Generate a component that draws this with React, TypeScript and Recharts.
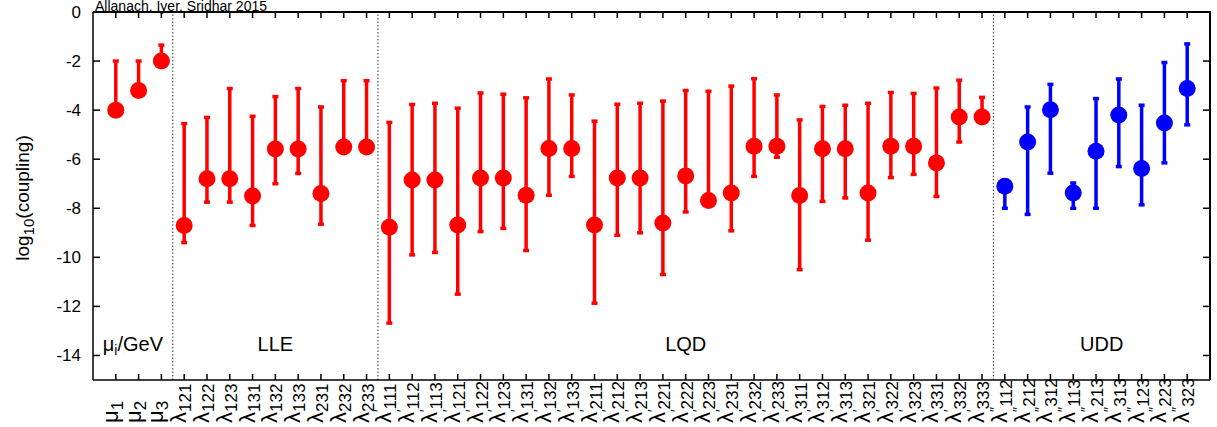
import { ErrorBar, ReferenceLine, Scatter, ScatterChart, XAxis, YAxis } from 'recharts';

// couplings as log10 values: best fit, lower end, upper end of the bar
const muNames = ['μ_1', 'μ_2', 'μ_3'];
const muBest = [-4.0, -3.2, -2.0];
const muLow = [-4.0, -3.2, -2.0];
const muHigh = [-2.0, -2.0, -1.35];

const lleNames = ['λ_121', 'λ_122', 'λ_123', 'λ_131', 'λ_132', 'λ_133', 'λ_231', 'λ_232', 'λ_233'];
const lleBest = [-8.7, -6.8, -6.8, -7.5, -5.58, -5.58, -7.4, -5.5, -5.5];
const lleLow = [-9.4, -7.75, -7.75, -8.7, -7.0, -6.58, -8.65, -5.5, -5.5];
const lleHigh = [-4.55, -4.3, -3.12, -4.25, -3.45, -3.12, -3.87, -2.8, -2.8];

const lqdNames = [
    "λ'_111", "λ'_112", "λ'_113", "λ'_121", "λ'_122", "λ'_123", "λ'_131", "λ'_132", "λ'_133",
    "λ'_211", "λ'_212", "λ'_213", "λ'_221", "λ'_222", "λ'_223", "λ'_231", "λ'_232", "λ'_233",
    "λ'_311", "λ'_312", "λ'_313", "λ'_321", "λ'_322", "λ'_323", "λ'_331", "λ'_332", "λ'_333",
];
const lqdBest = [
    -8.77, -6.85, -6.85, -8.68, -6.77, -6.77, -7.47, -5.56, -5.56,
    -8.68, -6.77, -6.77, -8.6, -6.68, -7.68, -7.38, -5.47, -5.47,
    -7.48, -5.57, -5.57, -7.38, -5.47, -5.47, -6.15, -4.28, -4.28,
];
const lqdLow = [
    -12.68, -9.9, -9.8, -11.5, -8.95, -8.82, -9.72, -7.47, -6.7,
    -11.87, -9.1, -9.0, -10.7, -8.15, -7.85, -8.92, -6.7, -5.92,
    -10.5, -7.72, -7.58, -9.3, -6.75, -6.62, -7.52, -5.3, -4.4,
];
const lqdHigh = [
    -4.5, -3.77, -3.72, -3.92, -3.3, -3.35, -3.5, -2.73, -3.38,
    -4.45, -3.76, -3.72, -3.63, -3.2, -3.23, -3.02, -2.72, -3.38,
    -4.4, -3.85, -3.8, -3.72, -3.28, -3.32, -3.1, -2.78, -3.48,
];

const uddNames = ["λ''_112", "λ''_212", "λ''_312", "λ''_113", "λ''_213", "λ''_313", "λ''_123", "λ''_223", "λ''_323"];
const uddBest = [-7.1, -5.3, -3.98, -7.38, -5.68, -4.2, -6.38, -4.52, -3.12];
const uddLow = [-8.0, -8.25, -6.57, -8.0, -8.0, -6.3, -7.86, -6.15, -4.6];
const uddHigh = [-7.1, -3.87, -2.95, -6.97, -3.53, -2.73, -3.8, -2.06, -1.3];

const sectorLabels = ['μ_i/GeV', 'LLE', 'LQD', 'UDD'];
const sectorLabelX = [1.75, 8, 26, 44.25];
const sectorLabelY = -13.45;

const X_DOMAIN = [0, 49];
const Y_DOMAIN = [-15, 0];
const yTicks = [0, -2, -4, -6, -8, -10, -12, -14];

// layout
const W = 1217;
const H = 427;
const MARGIN = { top: 12, right: 7, bottom: 0, left: 0 };
const Y_AXIS_W = 93;
const X_AXIS_H = 47;
const PLOT_LEFT = MARGIN.left + Y_AXIS_W;
const PLOT_TOP = MARGIN.top;
const PLOT_RIGHT = W - MARGIN.right;
const PLOT_BOTTOM = H - MARGIN.bottom - X_AXIS_H;

const RED = '#ff0000';
const BLUE = '#0000ff';
const FONT = '"Liberation Sans", Arial, Helvetica, sans-serif';

const allNames = [...muNames, ...lleNames, ...lqdNames, ...uddNames];
const xTicks = allNames.map((_, i) => i + 1);
const breaks = [
    muNames.length + 0.5,
    muNames.length + lleNames.length + 0.5,
    muNames.length + lleNames.length + lqdNames.length + 0.5,
];

function buildRows(best: number[], low: number[], high: number[], start: number) {
    return best.map((v, i) => ({ x: start + i, y: v, err: [v - low[i], high[i] - v] }));
}

const redRows = [
    ...buildRows(muBest, muLow, muHigh, 1),
    ...buildRows(lleBest, lleLow, lleHigh, 1 + muNames.length),
    ...buildRows(lqdBest, lqdLow, lqdHigh, 1 + muNames.length + lleNames.length),
];
const blueRows = buildRows(uddBest, uddLow, uddHigh, 1 + muNames.length + lleNames.length + lqdNames.length);
const sectorRows = sectorLabels.map((label, i) => ({ x: sectorLabelX[i], y: sectorLabelY, label }));

function splitName(name: string) {
    const [head, sub] = name.split('_');
    return { base: head[0], primes: head.slice(1).replace(/'/g, '′'), sub };
}

// bottom label + inward tick, mirrored tick on the top edge
function BottomTick({ x, y, payload }: any) {
    const name = allNames[payload.value - 1];
    if (!name) return null;
    const { base, primes, sub } = splitName(name);
    return (
        <g>
            <line x1={x} y1={y} x2={x} y2={y - 6} stroke="#000" strokeWidth={1.5} />
            <line x1={x} y1={PLOT_TOP} x2={x} y2={PLOT_TOP + 6} stroke="#000" strokeWidth={1.5} />
            <text transform={`translate(${x + 2},${y + 43}) rotate(-90)`} fontSize={22} fontFamily={FONT} fill="#000">
                <tspan>{base}</tspan>
                {primes && (
                    <tspan fontSize={14} dy={-7}>
                        {primes}
                    </tspan>
                )}
                <tspan fontSize={17} dy={primes ? 12 : 5}>
                    {sub}
                </tspan>
            </text>
        </g>
    );
}

// left label + inward tick, mirrored tick on the right edge
function LeftTick({ x, y, payload }: any) {
    return (
        <g>
            <line x1={x} y1={y} x2={x + 7} y2={y} stroke="#000" strokeWidth={1.5} />
            <line x1={PLOT_RIGHT} y1={y} x2={PLOT_RIGHT - 7} y2={y} stroke="#000" strokeWidth={1.5} />
            <text x={x - 12} y={y} dy={6} textAnchor="end" fontSize={17} fontFamily={FONT} fill="#000">
                {String(payload.value)}
            </text>
        </g>
    );
}

function Dot(color: string) {
    return (props: any) => <circle cx={props.cx} cy={props.cy} r={8.5} fill={color} />;
}

function SectorLabel(props: any) {
    const { cx, cy, payload } = props;
    const [main, sub] = String(payload.label).split('_');
    if (sub) {
        const [idx, rest] = sub.split('/');
        return (
            <text x={cx} y={cy} dy={9} textAnchor="middle" fontSize={20} fontFamily={FONT} fill="#000">
                <tspan>{main}</tspan>
                <tspan fontSize={14} dy={4}>
                    {idx}
                </tspan>
                <tspan dy={-4}>/{rest}</tspan>
            </text>
        );
    }
    return (
        <text x={cx} y={cy} dy={9} textAnchor="middle" fontSize={20} fontFamily={FONT} fill="#000">
            {main}
        </text>
    );
}

export default function App() {
    return (
        <div style={{ position: 'absolute', left: 0, top: 0, width: W, height: H, background: '#fff' }}>
            <ScatterChart width={W} height={H} margin={MARGIN}>
                <XAxis
                    type="number"
                    dataKey="x"
                    domain={X_DOMAIN}
                    ticks={xTicks}
                    interval={0}
                    allowDataOverflow
                    height={X_AXIS_H}
                    tickSize={0}
                    tickMargin={0}
                    tickLine={false}
                    axisLine={{ stroke: '#000', strokeWidth: 1.5 }}
                    tick={<BottomTick />}
                />
                <YAxis
                    type="number"
                    dataKey="y"
                    domain={Y_DOMAIN}
                    ticks={yTicks}
                    interval={0}
                    allowDataOverflow
                    width={Y_AXIS_W}
                    tickSize={0}
                    tickMargin={0}
                    tickLine={false}
                    axisLine={{ stroke: '#000', strokeWidth: 1.5 }}
                    tick={<LeftTick />}
                />
                {breaks.map((b) => (
                    <ReferenceLine key={b} x={b} stroke="#555" strokeWidth={1.2} strokeDasharray="1.5 2" />
                ))}
                <Scatter data={redRows} shape={Dot(RED)} isAnimationActive={false}>
                    <ErrorBar dataKey="err" direction="y" width={3} stroke={RED} strokeWidth={3.5} isAnimationActive={false} />
                </Scatter>
                <Scatter data={blueRows} shape={Dot(BLUE)} isAnimationActive={false}>
                    <ErrorBar dataKey="err" direction="y" width={3} stroke={BLUE} strokeWidth={3.5} isAnimationActive={false} />
                </Scatter>
                <Scatter data={sectorRows} shape={SectorLabel} isAnimationActive={false} />
            </ScatterChart>
            {/* top and right sides of the frame */}
            <div
                style={{
                    position: 'absolute',
                    left: PLOT_LEFT,
                    top: PLOT_TOP - 1,
                    width: PLOT_RIGHT - PLOT_LEFT + 1,
                    height: PLOT_BOTTOM - PLOT_TOP + 1,
                    borderTop: '2px solid #000',
                    borderRight: '2px solid #000',
                    boxSizing: 'border-box',
                    pointerEvents: 'none',
                }}
            />
            <svg width={W} height={H} style={{ position: 'absolute', left: 0, top: 0, pointerEvents: 'none' }}>
                <text x={95} y={11} fontSize={14} fontFamily={FONT} fill="#000">
                    Allanach, Iyer, Sridhar 2015
                </text>
                <text transform="translate(29,198) rotate(-90)" textAnchor="middle" fontSize={19} fontFamily={FONT} fill="#000">
                    <tspan>log</tspan>
                    <tspan fontSize={15} dy={5}>
                        10
                    </tspan>
                    <tspan dy={-5}>(coupling)</tspan>
                </text>
            </svg>
        </div>
    );
}
